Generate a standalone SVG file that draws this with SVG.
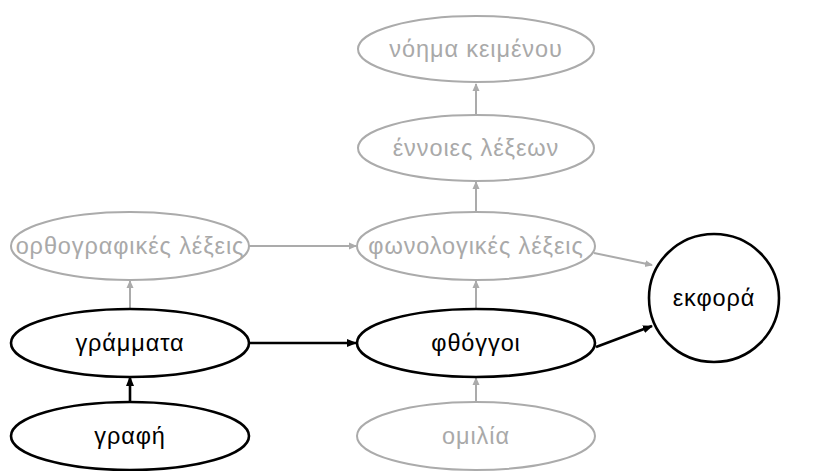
<svg xmlns="http://www.w3.org/2000/svg" width="815" height="471" viewBox="0 0 815 471">
<style>
.g ellipse{fill:#fff;stroke:#ababab;stroke-width:2}
.b ellipse{fill:#fff;stroke:#000;stroke-width:2.6}
text{font-family:"Liberation Sans",Arial,sans-serif;font-size:23.5px;letter-spacing:0.9px;text-anchor:middle;dominant-baseline:central}
.g text{fill:#a9a9a9}
.b text{fill:#000}
.cg{stroke:#ababab;stroke-width:2;fill:none}
.cb{stroke:#000;stroke-width:2.6;fill:none}
</style>
<defs>
<marker id="ag" markerWidth="8" markerHeight="8" refX="7" refY="4" orient="auto" markerUnits="userSpaceOnUse"><path d="M0,0.5 L8,4 L0,7.5 Z" fill="#ababab"/></marker>
<marker id="ab" markerWidth="10" markerHeight="10" refX="9" refY="5" orient="auto" markerUnits="userSpaceOnUse"><path d="M0,1 L10,5 L0,9 Z" fill="#000"/></marker>
</defs>
<g id="connectors">
<line class="cg" x1="476" y1="114" x2="476" y2="84" marker-end="url(#ag)"/>
<line class="cg" x1="476" y1="212" x2="476" y2="182" marker-end="url(#ag)"/>
<line class="cg" x1="476" y1="309" x2="476" y2="281" marker-end="url(#ag)"/>
<line class="cg" x1="476" y1="403" x2="476" y2="378" marker-end="url(#ag)"/>
<line class="cg" x1="130" y1="309" x2="130" y2="281" marker-end="url(#ag)"/>
<line class="cg" x1="249" y1="246" x2="356" y2="246" marker-end="url(#ag)"/>
<line class="cg" x1="594" y1="253" x2="652" y2="265" marker-end="url(#ag)"/>
<line class="cb" x1="130" y1="403" x2="130" y2="377" marker-end="url(#ab)"/>
<line class="cb" x1="249" y1="343" x2="356" y2="343" marker-end="url(#ab)"/>
<line class="cb" x1="596" y1="347" x2="652" y2="326" marker-end="url(#ab)"/>
</g>
<g id="n1" class="g"><ellipse cx="476" cy="49" rx="118" ry="33"/><text x="476" y="49">νόημα κειμένου</text></g>
<g id="n2" class="g"><ellipse cx="476" cy="148" rx="118" ry="33"/><text x="476" y="148">έννοιες λέξεων</text></g>
<g id="n3" class="g"><ellipse cx="130" cy="246" rx="119" ry="34"/><text x="130" y="246">ορθογραφικές λέξεις</text></g>
<g id="n4" class="g"><ellipse cx="476" cy="246" rx="119" ry="34"/><text x="476" y="246">φωνολογικές λέξεις</text></g>
<g id="n5" class="b"><ellipse cx="130" cy="343" rx="119" ry="34"/><text x="130" y="343">γράμματα</text></g>
<g id="n6" class="b"><ellipse cx="476" cy="343" rx="119" ry="34"/><text x="476" y="343">φθόγγοι</text></g>
<g id="n7" class="b"><ellipse cx="130" cy="436" rx="119" ry="34"/><text x="130" y="436">γραφή</text></g>
<g id="n8" class="g"><ellipse cx="476" cy="436" rx="119" ry="34"/><text x="476" y="436">ομιλία</text></g>
<g id="n9" class="b"><ellipse cx="714" cy="298" rx="65" ry="64"/><text x="714" y="298">εκφορά</text></g>
</svg>
